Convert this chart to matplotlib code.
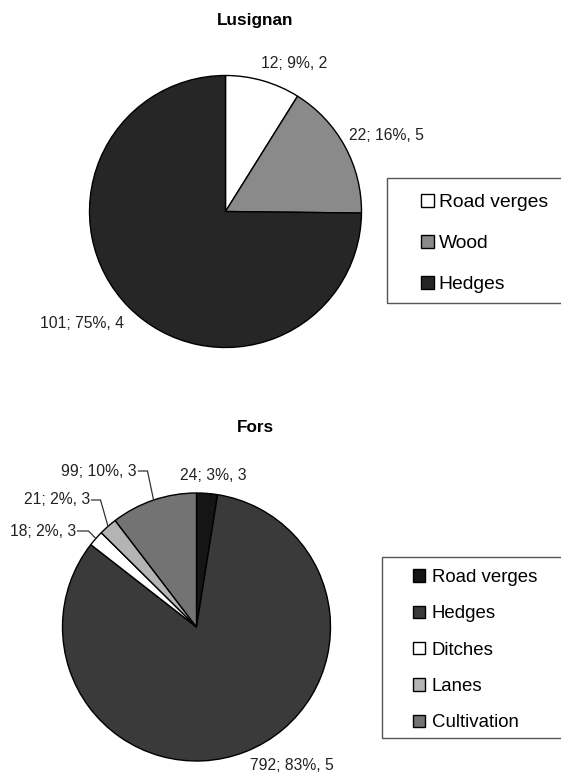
import matplotlib
matplotlib.use("Agg")
import matplotlib.pyplot as plt
from matplotlib.patches import Rectangle
import numpy as np

plt.rcParams["font.family"] = ["Liberation Sans", "DejaVu Sans"]

# Lusignan data
lus_labels = ["Road verges", "Wood", "Hedges"]
lus_values = [12, 22, 101]
lus_extra = [2, 5, 4]
lus_colors = ["#ffffff", "#8a8a8a", "#262626"]

# Fors data
fors_labels = ["Road verges", "Hedges", "Ditches", "Lanes", "Cultivation"]
fors_values = [24, 792, 18, 21, 99]
fors_extra = [3, 5, 3, 3, 3]
fors_colors = ["#151515", "#3a3a3a", "#ffffff", "#b4b4b4", "#737373"]

W, H = 561, 774
fig = plt.figure(figsize=(W / 100, H / 100), dpi=100)


def pie_axes(cx, cy, r):
    ax = fig.add_axes([(cx - r) / W, 1 - (cy + r) / H, 2 * r / W, 2 * r / H])
    return ax


def to_data(px, py, cx, cy, r):
    return (px - cx) / r, (cy - py) / r


def make_text(values, extra):
    total = sum(values)
    return ["{}; {}%, {}".format(v, int(round(100 * v / total + 1e-9)), e)
            for v, e in zip(values, extra)]


def draw_frame(x0, y0, y1):
    fig.patches.append(Rectangle((x0 / W, 1 - y1 / H), (W + 20 - x0) / W, (y1 - y0) / H,
                                 transform=fig.transFigure, fill=False,
                                 edgecolor="#555555", linewidth=1.0))


lab_fs = 11.3

# ---------- Lusignan ----------
cx1, cy1, r1 = 225.5, 211.5, 136
ax1 = pie_axes(cx1, cy1, r1)
w1, _ = ax1.pie(lus_values, colors=lus_colors, startangle=90, counterclock=False,
                wedgeprops=dict(edgecolor="black", linewidth=1.0))
ax1.set_xlim(-1, 1)
ax1.set_ylim(-1, 1)
fig.text(255 / W, 1 - 20 / H, "Lusignan", ha="center", va="center",
         fontsize=12.3, fontweight="bold")

lus_txt = make_text(lus_values, lus_extra)
lus_pos = [(294, 63), (386, 136), (82, 324)]
for t, (px, py) in zip(lus_txt, lus_pos):
    x, y = to_data(px, py, cx1, cy1, r1)
    ax1.text(x, y, t, ha="center", va="center", fontsize=lab_fs, color="#222222",
             clip_on=False)

draw_frame(387, 178, 303)
fs1 = 13.9
fig.legend(w1, lus_labels, loc="upper left", bbox_to_anchor=(421 / W, 1 - 194 / H),
           frameon=False, fontsize=fs1, borderpad=0, borderaxespad=0,
           handlelength=0.67, handleheight=0.67, handletextpad=0.25,
           labelspacing=1.22)

# ---------- Fors ----------
cx2, cy2, r2 = 196.5, 627, 134
ax2 = pie_axes(cx2, cy2, r2)
w2, _ = ax2.pie(fors_values, colors=fors_colors, startangle=90, counterclock=False,
                wedgeprops=dict(edgecolor="black", linewidth=1.0))
ax2.set_xlim(-1, 1)
ax2.set_ylim(-1, 1)
fig.text(255 / W, 1 - 427 / H, "Fors", ha="center", va="center",
         fontsize=12.3, fontweight="bold")

fors_txt = make_text(fors_values, fors_extra)
# centred labels: road verges, hedges
for i, (px, py) in [(0, (213, 476)), (1, (292, 766))]:
    x, y = to_data(px, py, cx2, cy2, r2)
    ax2.text(x, y, fors_txt[i], ha="center", va="center", fontsize=lab_fs,
             color="#222222", clip_on=False)

# labels with leader lines: ditches, lanes, cultivation
leaders = {2: (76, 531, 11), 3: (90, 500, 9), 4: (137, 471, 9)}
for i, (px, py, run) in leaders.items():
    x, y = to_data(px, py, cx2, cy2, r2)
    ax2.text(x, y, fors_txt[i], ha="right", va="center", fontsize=lab_fs,
             color="#222222", clip_on=False)
    wd = w2[i]
    mid = np.deg2rad((wd.theta1 + wd.theta2) / 2)
    ex, ey = np.cos(mid), np.sin(mid)
    x1, _ = to_data(px + 1.5, py, cx2, cy2, r2)
    x2, _ = to_data(px + 1.5 + run, py, cx2, cy2, r2)
    ax2.plot([x1, x2, ex], [y, y, ey], color="#333333", linewidth=0.9,
             clip_on=False)

draw_frame(382, 557, 738)
fs2 = 13.4
fig.legend(w2, fors_labels, loc="upper left", bbox_to_anchor=(413 / W, 1 - 569 / H),
           frameon=False, fontsize=fs2, borderpad=0, borderaxespad=0,
           handlelength=0.65, handleheight=0.65, handletextpad=0.35,
           labelspacing=1.04)

fig.savefig("out.png", dpi=100)
